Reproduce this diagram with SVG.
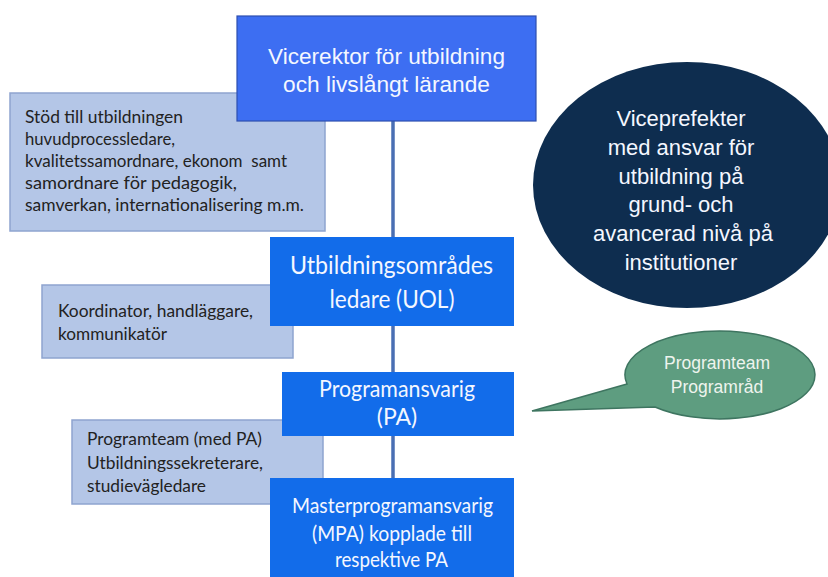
<svg xmlns="http://www.w3.org/2000/svg" width="828" height="577" viewBox="0 0 828 577">
<style>
.sup{fill:#b4c6e7;stroke:#8ea4cf;stroke-width:1.5}
.blue{fill:#126cea}
.top{fill:#3d6ef2;stroke:#2d4fb0;stroke-width:1.2}
.conn{stroke:#4a6fb3;stroke-width:3.5;fill:none}
.cal{font-family:Lato,"Open Sans",sans-serif}
.ari{font-family:"Liberation Sans",Arial,sans-serif}
.dk{fill:#222222;font-size:17.5px}
.wt{fill:#f4f7ff}
.c{text-anchor:middle}
</style>
<rect width="828" height="577" fill="#ffffff"/>
<g id="support1">
<rect class="sup" x="10" y="93" width="315" height="138"/>
<text class="cal dk" x="25" y="123" textLength="158" lengthAdjust="spacingAndGlyphs">Stöd till utbildningen</text>
<text class="cal dk" x="25" y="145" textLength="150" lengthAdjust="spacingAndGlyphs">huvudprocessledare,</text>
<text class="cal dk" x="25" y="167" textLength="262" lengthAdjust="spacingAndGlyphs">kvalitetssamordnare, ekonom&#160; samt</text>
<text class="cal dk" x="25" y="189" textLength="212" lengthAdjust="spacingAndGlyphs">samordnare för pedagogik,</text>
<text class="cal dk" x="25" y="211" textLength="279" lengthAdjust="spacingAndGlyphs">samverkan, internationalisering m.m.</text>
</g>
<g id="support2">
<rect class="sup" x="42" y="285" width="251" height="73"/>
<text class="cal dk" x="58" y="317" textLength="195" lengthAdjust="spacingAndGlyphs">Koordinator, handläggare,</text>
<text class="cal dk" x="58" y="340" textLength="109" lengthAdjust="spacingAndGlyphs">kommunikatör</text>
</g>
<g id="support3">
<rect class="sup" x="72" y="420" width="251" height="84"/>
<text class="cal dk" x="87" y="445" textLength="175" lengthAdjust="spacingAndGlyphs">Programteam (med PA)</text>
<text class="cal dk" x="87" y="469" textLength="176" lengthAdjust="spacingAndGlyphs">Utbildningssekreterare,</text>
<text class="cal dk" x="87" y="492" textLength="119" lengthAdjust="spacingAndGlyphs">studievägledare</text>
</g>
<g id="connectors">
<line class="conn" x1="393" y1="121" x2="393" y2="237"/>
<line class="conn" x1="393" y1="326" x2="393" y2="372"/>
<line class="conn" x1="393" y1="436" x2="393" y2="478"/>
</g>
<g id="vicerektor">
<rect class="top" x="237" y="16" width="299" height="105"/>
<text class="ari wt c" x="386.5" y="64" font-size="22.5" textLength="237" lengthAdjust="spacingAndGlyphs">Vicerektor för utbildning</text>
<text class="ari wt c" x="386.5" y="92" font-size="22.5" textLength="207" lengthAdjust="spacingAndGlyphs">och livslångt lärande</text>
</g>
<g id="uol">
<rect class="blue" x="270" y="237" width="244" height="89"/>
<text class="cal wt c" x="391.5" y="274" font-size="25" textLength="203" lengthAdjust="spacingAndGlyphs">Utbildningsområdes</text>
<text class="cal wt c" x="392" y="308" font-size="25" textLength="125" lengthAdjust="spacingAndGlyphs">ledare (UOL)</text>
</g>
<g id="pa">
<rect class="blue" x="282" y="372" width="232" height="64"/>
<text class="cal wt c" x="397" y="397" font-size="23" textLength="156" lengthAdjust="spacingAndGlyphs">Programansvarig</text>
<text class="cal wt c" x="397" y="425" font-size="23">(PA)</text>
</g>
<g id="mpa">
<rect class="blue" x="270" y="478" width="244" height="102"/>
<text class="cal wt c" x="392.5" y="513" font-size="22" textLength="201" lengthAdjust="spacingAndGlyphs">Masterprogramansvarig</text>
<text class="cal wt c" x="392" y="541" font-size="22" textLength="160" lengthAdjust="spacingAndGlyphs">(MPA) kopplade till</text>
<text class="cal wt c" x="391.5" y="567" font-size="22" textLength="113" lengthAdjust="spacingAndGlyphs">respektive PA</text>
</g>
<g id="viceprefekter">
<ellipse cx="687" cy="185" rx="154" ry="123" fill="#0e2d4f"/>
<g class="ari wt c" font-size="22">
<text x="681" y="126">Viceprefekter</text>
<text x="681" y="155">med ansvar för</text>
<text x="681" y="183.5">utbildning på</text>
<text x="681" y="212">grund- och</text>
<text x="683" y="241">avancerad nivå på</text>
<text x="681" y="270">institutioner</text>
</g>
</g>
<g id="programrad">
<path d="M627,384 L532,411 L655,407 A95 44 0 1 0 627,384 Z" fill="#5e9d80" stroke="#3e7560" stroke-width="1.5"/>
<text class="ari c" x="717" y="369" font-size="17.5" fill="#eef4ee">Programteam</text>
<text class="ari c" x="717" y="393" font-size="17.5" fill="#eef4ee">Programråd</text>
</g>
</svg>
